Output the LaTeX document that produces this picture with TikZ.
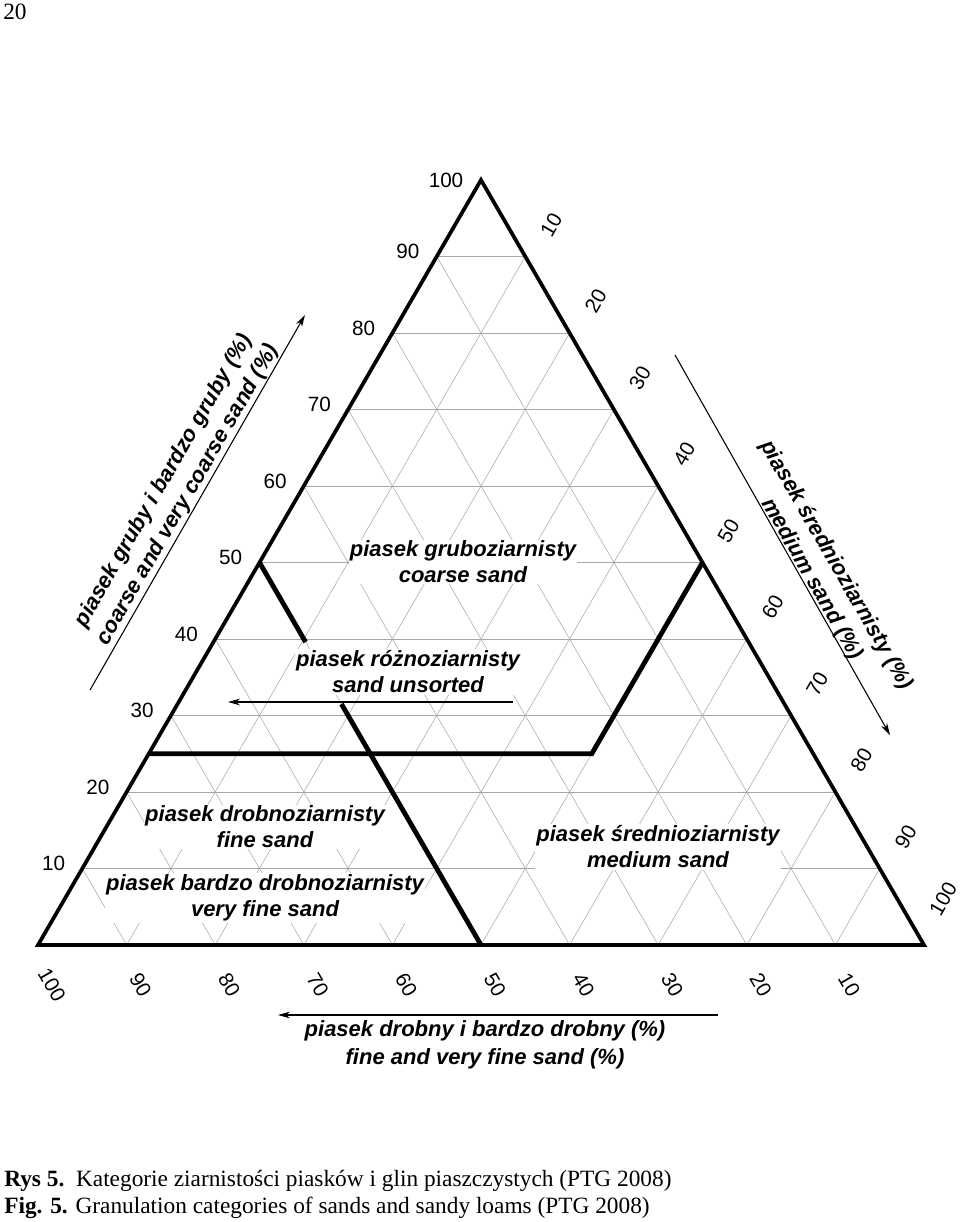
\documentclass[tikz,border=0pt]{standalone}
\usepackage{fontspec}
\setmainfont{Liberation Serif}
\newfontfamily\lab{Liberation Sans}
\usetikzlibrary{calc,arrows.meta}
\begin{document}
\begin{tikzpicture}[x=0.75pt,y=-0.75pt,
  grid/.style={gray!70,line width=0.4pt},
  edge/.style={line width=2.8pt,line join=miter},
  thick line/.style={line width=3.6pt},
  num/.style={font=\lab\fontsize{15.5}{17}\selectfont,inner sep=0pt},
  zone/.style={font=\lab\bfseries\itshape\fontsize{16.5}{19.5}\selectfont,align=center,fill=white,inner sep=1pt},
  axis/.style={font=\lab\bfseries\itshape\fontsize{16.5}{21}\selectfont,align=center,inner sep=0pt},
  arr/.style={-{Stealth[length=9pt,width=5pt]},line width=0.8pt}]
\useasboundingbox (0,0) rectangle (960,1222);
\coordinate (L) at (38,945);
\coordinate (R) at (924,945);
\coordinate (T) at (481,180);
% grid
\foreach \k in {0.1,0.2,...,0.91}{
  \draw[grid] ($(L)!\k!(T)$) -- ($(R)!\k!(T)$);
  \draw[grid] ($(L)!\k!(R)$) -- ($(T)!\k!(R)$);
  \draw[grid] ($(R)!\k!(L)$) -- ($(T)!\k!(L)$);
}
% zone labels
\node[zone] (zc) at (463,562) {piasek gruboziarnisty\\coarse sand};
\node[zone] (zu) at (408,672) {piasek różnoziarnisty\\sand unsorted};
\node[zone] (zf) at (265,827) {piasek drobnoziarnisty\\fine sand};
\node[zone] (zv) at (265,898) {piasek bardzo drobnoziarnisty\\very fine sand};
\node[zone] (zm) at (658,847) {piasek średnioziarnisty\\medium sand};
% triangle
\draw[edge] (L) -- (R) -- (T) -- cycle;
% thick boundaries
\coordinate (A) at ($(L)!0.5!(T)$);
\coordinate (B) at ($(L)!0.5!(R)$);
\coordinate (C) at ($(L)!0.25!(T)$);
\coordinate (D) at (591.75,753.75);
\coordinate (E) at ($(T)!0.5!(R)$);
\draw[thick line] (A) -- ($(A)!0.208!(B)$);
\draw[thick line] ($(A)!0.37!(B)$) -- (B);
\draw[thick line,line join=miter] (C) -- (D) -- (E);
% numbers
\node[num] (t100) at (446,180) {100};
\foreach \v/\k in {10/0.1,20/0.2,30/0.3,40/0.4,50/0.5,60/0.6,70/0.7,80/0.8,90/0.9}{
  \node[num,anchor=east] (l\v) at ($(L)!\k!(T)+(-17,-5)$) {\v};
  \node[num,rotate=60] (r\v) at ($(T)!\k!(R)+(26,-32)$) {\v};
}
\node[num,rotate=60] (r100) at ($(R)+(19,-46)$) {100};
\foreach \v/\k in {10/0.1,20/0.2,30/0.3,40/0.4,50/0.5,60/0.6,70/0.7,80/0.8,90/0.9,100/1}{
  \node[num,rotate=-60] (b\v) at ($(R)!\k!(L)+(14,40)$) {\v};
}
% axis titles
\node[axis,rotate=60] (al) at (176,488) {piasek gruby i bardzo gruby (\%)\\coarse and very coarse sand (\%)};
\node[axis,rotate=-60] (ar) at (824,572) {piasek średnioziarnisty (\%)\\medium sand (\%)};
\node[axis] (ab) at (485,1045) {piasek drobny i bardzo drobny (\%)\\fine and very fine sand (\%)};
% arrows
\coordinate (a1) at (90,690); \coordinate (a2) at (305,315);
\coordinate (a3) at (675,355); \coordinate (a4) at (890,735);
\coordinate (a5) at (718,1015); \coordinate (a6) at (278,1015);
\coordinate (a7) at (513,702); \coordinate (a8) at (228,702);
\draw[arr] (a1) -- (a2);
\draw[arr] (a3) -- (a4);
\draw[arr] (a5) -- (a6);
\draw[arr] (a7) -- (a8);
% page number and caption
\node[anchor=north west,inner sep=0pt,font=\fontsize{17.5}{20}\selectfont] (pg) at (3,4) {20};
\node[anchor=west,inner sep=0pt,font=\fontsize{17.5}{20}\selectfont] (cap1) at (4,1181) {\textbf{Rys 5.}\ \ Kategorie ziarnistości piasków i glin piaszczystych (PTG 2008)};
\node[anchor=west,inner sep=0pt,font=\fontsize{17.5}{20}\selectfont] (cap2) at (4,1208) {\textbf{Fig. 5.} Granulation categories of sands and sandy loams (PTG 2008)};
\end{tikzpicture}
\end{document}
